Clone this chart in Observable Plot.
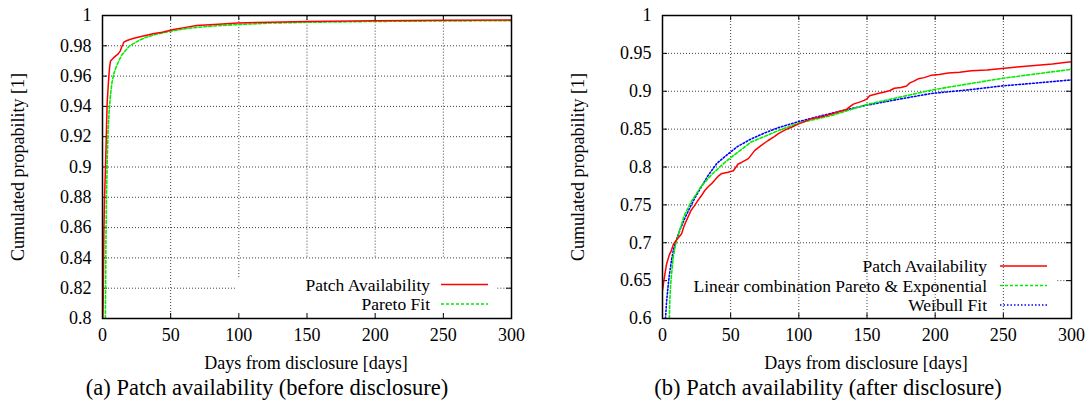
<!DOCTYPE html>
<html>
<head>
<meta charset="utf-8">
<script src="https://cdn.jsdelivr.net/npm/d3@7"></script>
<script src="https://cdn.jsdelivr.net/npm/@observablehq/plot@0.6"></script>
<style>
  html, body { margin: 0; padding: 0; background: white; }
  #wrap { position: relative; width: 1089px; height: 407px; font-family: 'Liberation Serif'; }
  #wrap svg { position: absolute; top: 0; }
  #wrap svg, #wrap svg text, #wrap svg g { font-family: 'Liberation Serif' !important; }
  .cap { position: absolute; top: 375px; height: 26px; line-height: 26px; font-size: 22.5px; text-align: center; white-space: nowrap; font-family: 'Liberation Serif'; }
</style>
</head>
<body>
<div id="wrap"></div>
<script>
// ---------- Data ----------
const xTicks = [0, 50, 100, 150, 200, 250, 300];
const leftYTicks = [0.8, 0.82, 0.84, 0.86, 0.88, 0.9, 0.92, 0.94, 0.96, 0.98, 1];
const rightYTicks = [0.6, 0.65, 0.7, 0.75, 0.8, 0.85, 0.9, 0.95, 1];

// (a) before disclosure
const leftPatchDays = [0, 0.5, 1, 1.5, 2.2, 2.9, 3.4, 4, 4.6, 5.2, 5.9, 8, 11.5, 13, 14, 15, 15.6, 18, 21.8, 26, 31.5, 37, 43.8, 52, 60, 69, 85, 99, 123, 150, 200, 250, 300];
const leftPatchProb = [0.79, 0.81, 0.856, 0.88, 0.9, 0.924, 0.9417, 0.951, 0.959, 0.966, 0.970, 0.972, 0.9747, 0.9765, 0.979, 0.981, 0.9824, 0.9835, 0.9846, 0.9857, 0.9868, 0.988, 0.989, 0.9907, 0.992, 0.9934, 0.9943, 0.995, 0.9956, 0.996, 0.9965, 0.9968, 0.997];
const leftParetoDays = [2.1, 2.5, 3, 3.5, 4.1, 4.9, 5.9, 7, 8.3, 10, 12, 14, 16.9, 20, 26.6, 32, 38.9, 52, 65, 80, 99, 123, 150, 200, 250, 300];
const leftParetoProb = [0.8, 0.85, 0.885, 0.905, 0.924, 0.937, 0.948, 0.956, 0.9615, 0.966, 0.970, 0.9737, 0.9769, 0.980, 0.9835, 0.9857, 0.9875, 0.990, 0.9918, 0.993, 0.994, 0.995, 0.9955, 0.9961, 0.9964, 0.9966];

// (b) after disclosure
const rightPatchDays = [0, 1, 3, 5, 6.6, 8, 10, 14, 16, 18.5, 21, 23.5, 26, 28.5, 31, 33.5, 36, 41, 43, 48, 52, 55.5, 58, 63, 67.7, 72, 77.5, 82, 85, 90, 94.6, 100, 109, 116, 124, 131, 135, 137, 140, 145, 148, 150, 152, 158, 163, 167, 170, 175, 179, 181.5, 184, 187.6, 192, 197, 203, 209.6, 218, 226.6, 238, 249, 260, 273, 286, 300];
const rightPatchProb = [0.637, 0.65, 0.672, 0.684, 0.69, 0.698, 0.703, 0.712, 0.723, 0.733, 0.743, 0.749, 0.756, 0.762, 0.769, 0.774, 0.778, 0.788, 0.791, 0.793, 0.795, 0.804, 0.806, 0.811, 0.822, 0.828, 0.835, 0.840, 0.844, 0.849, 0.8525, 0.857, 0.8636, 0.866, 0.870, 0.874, 0.876, 0.879, 0.883, 0.886, 0.888, 0.89, 0.894, 0.897, 0.899, 0.901, 0.904, 0.905, 0.907, 0.911, 0.913, 0.9164, 0.918, 0.921, 0.922, 0.924, 0.925, 0.927, 0.928, 0.93, 0.932, 0.934, 0.936, 0.939];
const rightLinCombDays = [5.0, 5.4, 6, 6.6, 7.8, 9.5, 11.5, 16, 21, 28.6, 36, 45.7, 50.6, 65, 85, 100, 124, 151, 198.5, 249, 300];
const rightLinCombProb = [0.6, 0.625, 0.645, 0.658, 0.68, 0.697, 0.71, 0.736, 0.754, 0.775, 0.79, 0.806, 0.813, 0.833, 0.848, 0.858, 0.868, 0.883, 0.902, 0.917, 0.929];
const rightWeibullDays = [2.2, 3, 4, 5, 6.6, 8, 10, 13, 16, 20, 24, 28.6, 33.5, 40, 48, 55, 65, 75, 85, 100, 124, 148, 175, 197, 225, 249, 275, 300];
const rightWeibullProb = [0.6, 0.622, 0.641, 0.657, 0.677, 0.69, 0.703, 0.718, 0.731, 0.746, 0.76, 0.774, 0.789, 0.805, 0.817, 0.827, 0.837, 0.845, 0.852, 0.86, 0.871, 0.881, 0.89, 0.897, 0.902, 0.907, 0.911, 0.915];

// gridline extents (the key box hides parts of some lines)
const leftGridX = [50, 100, 150, 200, 250];
const leftGridXFrom = [0.8, 0.827, 0.8405, 0.8405, 0.8405];
const leftGridY = [0.82, 0.82, 0.84, 0.86, 0.88, 0.9, 0.92, 0.94, 0.96, 0.98];
const leftGridYFrom = [0, 290, 0, 0, 0, 0, 0, 0, 0, 0];
const leftGridYTo = [97.5, 300, 300, 300, 300, 300, 300, 300, 300, 300];
const rightGridX = [50, 100, 150, 200, 250];
const rightGridY = [0.65, 0.7, 0.75, 0.8, 0.85, 0.9, 0.95];
const rightGridYFrom = [290, 0, 0, 0, 0, 0, 0];

const leftLegend = ["Patch Availability", "Pareto Fit"];
const rightLegend = ["Patch Availability", "Linear combination Pareto & Exponential", "Weibull Fit"];
const yTitle = "Cumulated propability [1]";
const xTitle = "Days from disclosure [days]";
const captions = ["(a) Patch availability (before disclosure)", "(b) Patch availability (after disclosure)"];

// ---------- Styles ----------
const FONT = "Liberation Serif";
const FS = 18;
const LFS = 17.5;
const RED = "#ff0000", GREEN = "#00ee00", BLUE = "#0000ff";
const gridStyle = {stroke: "#000", strokeOpacity: 0.75, strokeWidth: 1, strokeDasharray: "1,2"};
const series = (days, probs) => days.map((d, i) => ({d, p: probs[i]}));
const fmt = d => String(+d.toFixed(2));

function panel({yDomain, yTicks, gridXMarks, gridYMarks, lines}) {
  const W = 531, H = 378, ML = 102, MR = 20, MT = 15, MB = 60;
  const iw = W - ML - MR, ih = H - MT - MB;
  const svg = Plot.plot({
    width: W, height: H, marginLeft: ML, marginRight: MR, marginTop: MT, marginBottom: MB,
    x: {domain: [0, 300], label: null},
    y: {domain: yDomain, label: null},
    style: {fontFamily: FONT, fontSize: FS + "px", background: "white", color: "black", overflow: "visible"},
    marks: [
      ...gridXMarks, ...gridYMarks,
      Plot.axisX(xTicks, {tickSize: 0, tickPadding: 10, tickFormat: d => String(d), label: null, fontSize: FS}),
      Plot.axisY(yTicks, {tickSize: 0, tickPadding: 11, tickFormat: fmt, label: null, fontSize: FS}),
      Plot.tickY(yTicks, {y: d => d, insetRight: iw - 5, stroke: "black"}),
      Plot.tickY(yTicks, {y: d => d, insetLeft: iw - 5, stroke: "black"}),
      Plot.tickX(xTicks, {x: d => d, insetTop: ih - 5, stroke: "black"}),
      Plot.tickX(xTicks, {x: d => d, insetBottom: ih - 5, stroke: "black"}),
      ...lines,
      Plot.frame({stroke: "black", strokeWidth: 1.5})
    ]
  });
  svg.setAttribute("font-family", FONT);
  svg.querySelectorAll("g, text").forEach(n => { if (n.hasAttribute("font-family")) n.setAttribute("font-family", FONT); });
  return svg;
}

const wrap = document.getElementById("wrap");

// ----- Left panel -----
const leftSvg = panel({
  yDomain: [0.8, 1], yTicks: leftYTicks,
  gridXMarks: [Plot.ruleX(leftGridX, {x: d => d, y1: (d, i) => leftGridXFrom[i], y2: 1, ...gridStyle})],
  gridYMarks: [Plot.ruleY(leftGridY, {y: d => d, x1: (d, i) => leftGridYFrom[i], x2: (d, i) => leftGridYTo[i], ...gridStyle})],
  lines: [
    Plot.line(series(leftParetoDays, leftParetoProb), {x: "d", y: "p", stroke: GREEN, strokeWidth: 1.6, strokeDasharray: "3,2", clip: true}),
    Plot.line(series(leftPatchDays, leftPatchProb), {x: "d", y: "p", stroke: RED, strokeWidth: 1.5, clip: true})
  ]
});
leftSvg.style.left = "0px";
wrap.appendChild(leftSvg);

// ----- Right panel -----
const rightSvg = panel({
  yDomain: [0.6, 1], yTicks: rightYTicks,
  gridXMarks: [Plot.ruleX(rightGridX, {x: d => d, ...gridStyle})],
  gridYMarks: [Plot.ruleY(rightGridY, {y: d => d, x1: (d, i) => rightGridYFrom[i], x2: 300, ...gridStyle})],
  lines: [
    Plot.line(series(rightWeibullDays, rightWeibullProb), {x: "d", y: "p", stroke: BLUE, strokeWidth: 1.6, strokeDasharray: "1.5,2", clip: true}),
    Plot.line(series(rightLinCombDays, rightLinCombProb), {x: "d", y: "p", stroke: GREEN, strokeWidth: 1.6, strokeDasharray: "3,2", clip: true}),
    Plot.line(series(rightPatchDays, rightPatchProb), {x: "d", y: "p", stroke: RED, strokeWidth: 1.5, clip: true})
  ]
});
rightSvg.style.left = "560px";
wrap.appendChild(rightSvg);

// ----- Titles & legends -----
function decorate(svg, legendTexts, legendStyles, textRight, sampleX1, sampleX2, rowYs) {
  const s = d3.select(svg);
  s.append("text").attr("transform", "translate(18,167) rotate(-90)")
    .attr("text-anchor", "middle").attr("dominant-baseline", "central")
    .attr("font-size", FS).attr("font-family", FONT).attr("fill", "black").text(yTitle);
  s.append("text").attr("x", 306).attr("y", 363)
    .attr("text-anchor", "middle").attr("dominant-baseline", "central")
    .attr("font-size", FS).attr("font-family", FONT).attr("fill", "black").text(xTitle);
  legendTexts.forEach((t, i) => {
    s.append("text").attr("x", textRight).attr("y", rowYs[i])
      .attr("text-anchor", "end").attr("dominant-baseline", "central")
      .attr("font-size", LFS).attr("font-family", FONT).attr("fill", "black").text(t);
    s.append("line").attr("x1", sampleX1).attr("x2", sampleX2).attr("y1", rowYs[i]).attr("y2", rowYs[i])
      .attr("stroke", legendStyles[i].stroke).attr("stroke-width", legendStyles[i].w)
      .attr("stroke-dasharray", legendStyles[i].dash);
  });
}
decorate(leftSvg, leftLegend,
  [{stroke: RED, w: 1.5, dash: null}, {stroke: GREEN, w: 1.6, dash: "3,2"}],
  430, 441, 488, [284.5, 304]);
decorate(rightSvg, rightLegend,
  [{stroke: RED, w: 1.5, dash: null}, {stroke: GREEN, w: 1.6, dash: "3,2"}, {stroke: BLUE, w: 1.6, dash: "1.5,2"}],
  427, 440, 487, [266, 285.5, 305]);

// ----- Captions -----
[[captions[0], 267], [captions[1], 828]].forEach(([t, cx]) => {
  const div = document.createElement("div");
  div.className = "cap";
  div.style.left = (cx - 250) + "px";
  div.style.width = "500px";
  div.textContent = t;
  wrap.appendChild(div);
});
</script>
</body>
</html>
